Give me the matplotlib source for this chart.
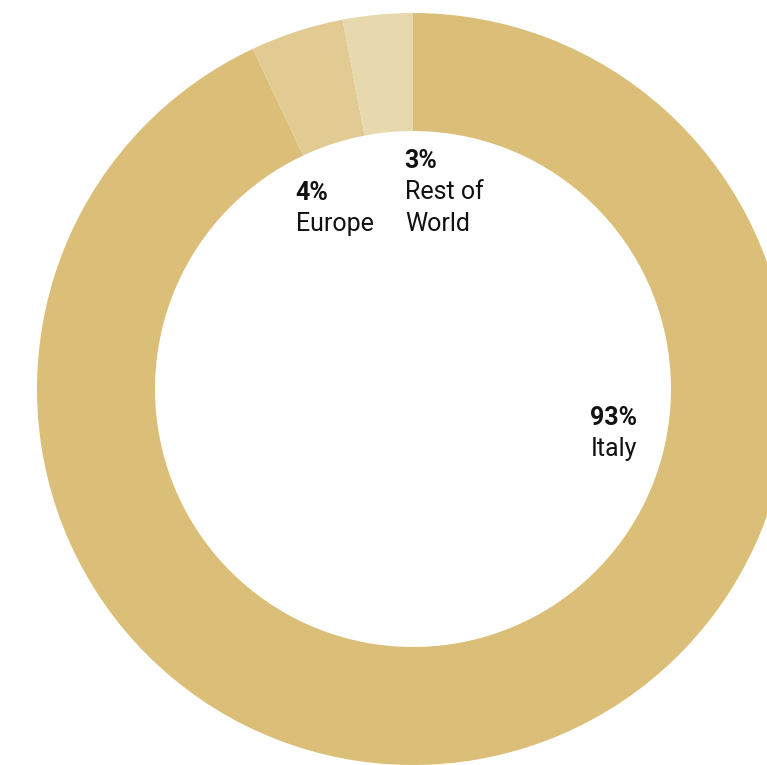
import matplotlib.pyplot as plt

regions = ["Italy", "Europe", "Rest of\nWorld"]
shares = [93, 4, 3]
colors = ["#dbbf78", "#e1cb92", "#e7d8ae"]

W, H = 767, 765
fig = plt.figure(figsize=(W / 100, H / 100), dpi=100)
ax = fig.add_axes([0, 0, 1, 1])

# donut, clockwise from 12 o'clock
cx, cy, R = 413, H - 389, 376
ax.pie(shares, colors=colors, startangle=90, counterclock=False,
       center=(cx, cy), radius=R, frame=True,
       wedgeprops=dict(width=R - 258, linewidth=0))
ax.set_xlim(0, W)
ax.set_ylim(0, H)
ax.set_aspect("equal")
ax.axis("off")

# labels: bold share on top, region name below
label_pos = [(590, 425), (295, 200), (404, 168)]
for name, val, (x, y) in zip(regions, shares, label_pos):
    ax.text(x, H - y, f"{val}%", fontsize=18, fontweight="bold",
            family="Roboto", color="#111111", va="baseline", ha="left")
    for i, line in enumerate(name.split("\n")):
        ax.text(x + 1, H - (y + 31 + 32 * i), line, fontsize=18,
                family="Roboto", color="#111111", va="baseline", ha="left")

fig.savefig("out.png", dpi=100)
